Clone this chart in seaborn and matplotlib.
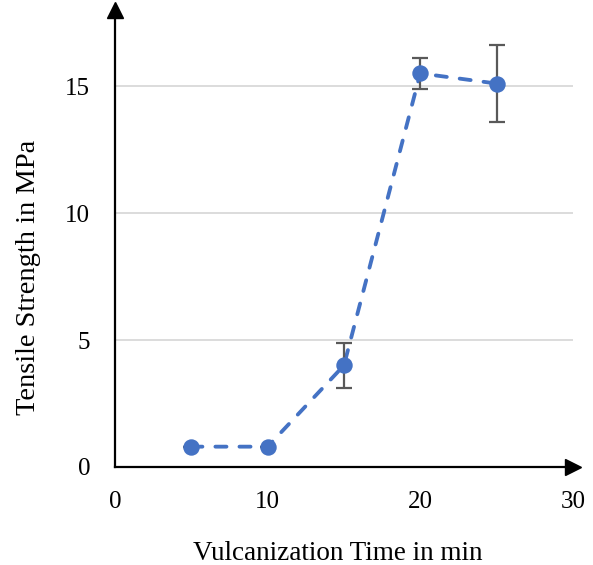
import seaborn as sns
import matplotlib
matplotlib.use("Agg")
import matplotlib.pyplot as plt

# data
time_min = [5, 10, 15, 20, 25]
strength_mpa = [0.8, 0.8, 4.0, 15.5, 15.1]
strength_err = [0.0, 0.0, 0.9, 0.6, 1.5]
x_ticks = [0, 10, 20, 30]
y_ticks = [0, 5, 10, 15]

BLUE = '#4472C4'

sns.set_style('white')
plt.rcParams['font.family'] = ['Liberation Serif', 'DejaVu Serif']
plt.rcParams['text.color'] = 'black'
plt.rcParams['axes.labelcolor'] = 'black'

fig = plt.figure(figsize=(5.93, 5.65), dpi=100)
ax = fig.add_axes([0.194, 0.1735, 0.772, 0.809])

# gridlines
for yv in y_ticks[1:]:
    ax.axhline(yv, color='#d9d9d9', lw=1.3, zorder=0)

sns.lineplot(x=time_min, y=strength_mpa, ax=ax, color=BLUE, lw=2.75,
             linestyle=(0, (2.9, 3.4)), dash_capstyle='round', zorder=2)
ax.errorbar(time_min, strength_mpa, yerr=strength_err, fmt='none',
            ecolor='#595959', elinewidth=1.6, capsize=6, capthick=1.6, zorder=3)
sns.scatterplot(x=time_min, y=strength_mpa, ax=ax, color=BLUE, s=140,
                edgecolor=BLUE, linewidth=0, zorder=4)

ax.set_xlim(0, 30)
ax.set_ylim(0, 18)

# axes with arrows
for side in ['top', 'right']:
    ax.spines[side].set_visible(False)
for side in ['left', 'bottom']:
    ax.spines[side].set_linewidth(1.6)
    ax.spines[side].set_color('black')
ax.plot(1, 0, '>', color='black', ms=12, transform=ax.get_yaxis_transform(),
        clip_on=False, zorder=5)
ax.plot(0, 1, '^', color='black', ms=12, transform=ax.get_xaxis_transform(),
        clip_on=False, zorder=5)

ax.set_xticks(x_ticks)
ax.set_yticks(y_ticks)
ax.tick_params(length=0, labelsize=18, labelcolor='black')
ax.tick_params(axis='x', pad=17)
ax.tick_params(axis='y', pad=18)
ax.set_xlabel('Vulcanization Time in min', fontsize=19.5)
ax.set_ylabel('Tensile Strength in MPa', fontsize=20.5)
ax.xaxis.set_label_coords(0.486, -0.162)
ax.yaxis.set_label_coords(-0.188, 0.415)
ax.yaxis.label.set_verticalalignment('center')

fig.savefig('out.png', dpi=100)
